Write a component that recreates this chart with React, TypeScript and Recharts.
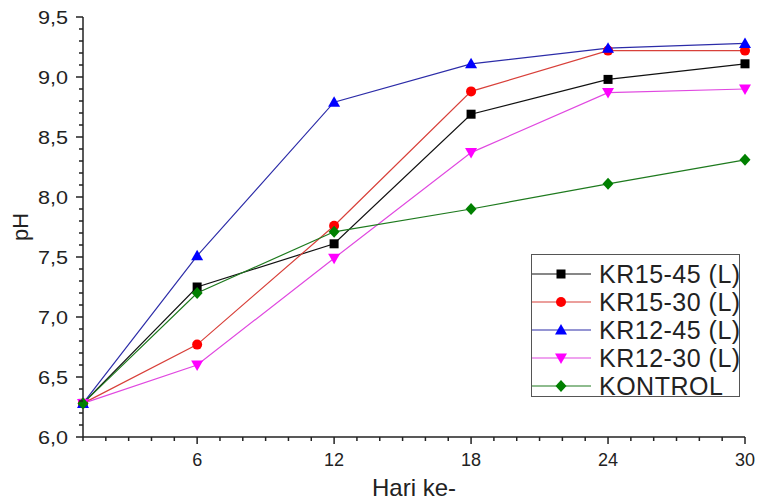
import React from "react";
import { LineChart, Line, XAxis, YAxis, Legend } from "recharts";

// days of measurement
const days = [1, 6, 12, 18, 24, 30];

// pH per treatment
const kr1545 = [6.28, 7.25, 7.61, 8.69, 8.98, 9.11];
const kr1530 = [6.28, 6.77, 7.76, 8.88, 9.22, 9.22];
const kr1245 = [6.28, 7.51, 8.79, 9.11, 9.24, 9.28];
const kr1230 = [6.28, 6.6, 7.49, 8.37, 8.87, 8.9];
const kontrol = [6.28, 7.2, 7.71, 7.9, 8.11, 8.31];

const seriesNames = ["KR15-45 (L)", "KR15-30 (L)", "KR12-45 (L)", "KR12-30 (L)", "KONTROL"];
const xLabelTicks = [6, 12, 18, 24, 30];
const yLabelTicks = [6.0, 6.5, 7.0, 7.5, 8.0, 8.5, 9.0, 9.5];

// minor ticks: every day on x, every 0.1 on y
const xTicks = Array.from({ length: 30 }, (_, i) => i + 1);
const yTicks = Array.from({ length: 36 }, (_, i) => Math.round(60 + i) / 10);

const chartData = days.map((d, i) => ({
  day: d,
  kr1545: kr1545[i],
  kr1530: kr1530[i],
  kr1245: kr1245[i],
  kr1230: kr1230[i],
  kontrol: kontrol[i],
}));

const SERIES = [
  { key: "kr1545", name: seriesNames[0], line: "#111111", fill: "#000000", shape: "square" },
  { key: "kr1530", name: seriesNames[1], line: "#d8403a", fill: "#ff0000", shape: "circle" },
  { key: "kr1245", name: seriesNames[2], line: "#2c2ca8", fill: "#0000ff", shape: "triUp" },
  { key: "kr1230", name: seriesNames[3], line: "#e048e0", fill: "#ff00ff", shape: "triDown" },
  { key: "kontrol", name: seriesNames[4], line: "#1e7a1e", fill: "#008000", shape: "diamond" },
];

const FONT = '"Liberation Sans", Arial, sans-serif';
const AXIS = "#222";

function Marker({ shape, cx, cy, color }: any) {
  if (cx == null || cy == null) return null;
  switch (shape) {
    case "square":
      return <rect x={cx - 4.5} y={cy - 4.5} width={9} height={9} fill={color} />;
    case "circle":
      return <circle cx={cx} cy={cy} r={5} fill={color} />;
    case "triUp":
      return <path d={`M${cx},${cy - 6}L${cx + 6},${cy + 4.5}L${cx - 6},${cy + 4.5}Z`} fill={color} />;
    case "triDown":
      return <path d={`M${cx},${cy + 6}L${cx + 6},${cy - 4.5}L${cx - 6},${cy - 4.5}Z`} fill={color} />;
    default:
      return <path d={`M${cx},${cy - 6}L${cx + 5.5},${cy}L${cx},${cy + 6}L${cx - 5.5},${cy}Z`} fill={color} />;
  }
}

const XTick = (props: any) => {
  const { x, y, payload } = props;
  const major = xLabelTicks.includes(payload.value);
  return (
    <g>
      <line x1={x} x2={x} y1={y} y2={y + (major ? 7 : 4)} stroke={AXIS} strokeWidth={1.5} />
      {major && (
        <text
          transform={`translate(${x},${y + 29})`}
          textAnchor="middle"
          fontSize={18}
          fill="#222"
          fontFamily={FONT}
        >
          {payload.value}
        </text>
      )}
    </g>
  );
};

const YTick = (props: any) => {
  const { x, y, payload } = props;
  const major = yLabelTicks.some((t) => Math.abs(t - payload.value) < 1e-6);
  return (
    <g>
      <line x1={x} x2={x - (major ? 7 : 4)} y1={y} y2={y} stroke={AXIS} strokeWidth={1.5} />
      {major && (
        <text
          transform={`translate(${x - 15},${y + 6.5}) scale(1.2,1)`}
          textAnchor="end"
          fontSize={18}
          fill="#222"
          fontFamily={FONT}
        >
          {payload.value.toFixed(1).replace(".", ",")}
        </text>
      )}
    </g>
  );
};

const LegendBox = () => (
  <div
    style={{
      boxSizing: "border-box",
      width: 209,
      height: 143,
      border: "1px solid #555",
      background: "#fff",
      paddingTop: 5,
      fontFamily: FONT,
    }}
  >
    {SERIES.map((s) => (
      <div key={s.key} style={{ display: "flex", alignItems: "center", height: 28 }}>
        <svg width={60} height={28} style={{ flexShrink: 0 }}>
          <line x1={0} x2={59} y1={14} y2={14} stroke={s.line} strokeWidth={1.2} />
          <Marker shape={s.shape} cx={29} cy={14} color={s.fill} />
        </svg>
        <span style={{ marginLeft: 7, fontSize: 25, letterSpacing: 0.5, color: "#222", lineHeight: "28px", whiteSpace: "nowrap" }}>
          {s.name}
        </span>
      </div>
    ))}
  </div>
);

export default function App() {
  return (
    <div style={{ position: "absolute", left: 0, top: 0, width: 758, height: 502, background: "#fff" }}>
      <LineChart width={758} height={502} data={chartData} margin={{ top: 17, right: 13, left: 0, bottom: 0 }}>
        <XAxis
          dataKey="day"
          type="number"
          domain={[1, 30]}
          ticks={xTicks}
          interval={0}
          height={65}
          tickLine={false}
          tickSize={0}
          tickMargin={0}
          axisLine={{ stroke: AXIS, strokeWidth: 1.5 }}
          tick={<XTick />}
          label={(p: any) => {
            const vb = p.viewBox || {};
            return (
              <text x={vb.x + vb.width / 2} y={496} textAnchor="middle" fontSize={24} fill="#222" fontFamily={FONT}>
                Hari ke-
              </text>
            );
          }}
        />
        <YAxis
          type="number"
          domain={[6, 9.5]}
          ticks={yTicks}
          interval={0}
          width={83}
          tickLine={false}
          tickSize={0}
          tickMargin={0}
          axisLine={{ stroke: AXIS, strokeWidth: 1.5 }}
          tick={<YTick />}
          label={(p: any) => {
            const vb = p.viewBox || {};
            const cy = vb.y + vb.height / 2;
            return (
              <text
                x={28}
                y={cy}
                transform={`rotate(-90, 28, ${cy})`}
                textAnchor="middle"
                fontSize={22}
                fill="#222"
                fontFamily={FONT}
              >
                pH
              </text>
            );
          }}
        />
        <Legend
          layout="horizontal"
          verticalAlign="middle"
          align="center"
          content={<LegendBox />}
          wrapperStyle={{ left: 531, top: 254, width: 209, height: 143 }}
        />
        {SERIES.map((s) => (
          <Line
            key={s.key}
            dataKey={s.key}
            name={s.name}
            type="linear"
            stroke={s.line}
            strokeWidth={1.2}
            isAnimationActive={false}
            activeDot={false}
            dot={(p: any) => <Marker key={`${s.key}-${p.index}`} shape={s.shape} cx={p.cx} cy={p.cy} color={s.fill} />}
          />
        ))}
      </LineChart>
    </div>
  );
}
